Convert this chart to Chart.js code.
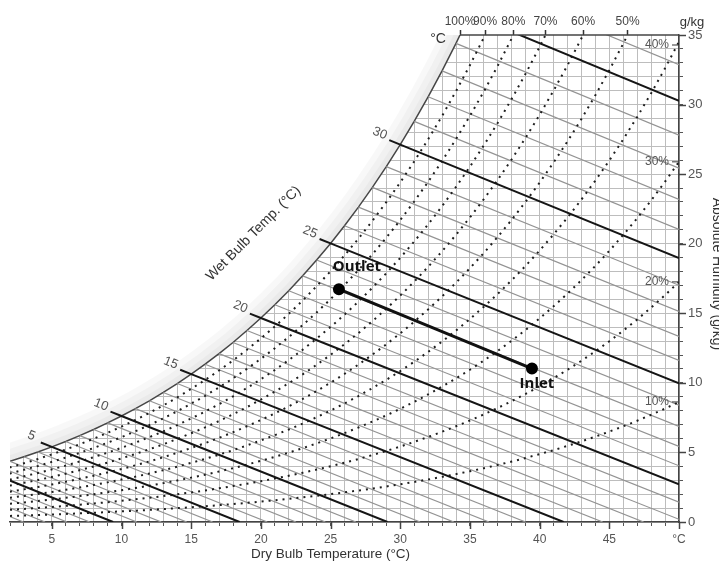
<!DOCTYPE html>
<html><head><meta charset="utf-8">
<script src="https://cdn.jsdelivr.net/npm/chart.js@4.4.1/dist/chart.umd.min.js"></script>
<style>html,body{margin:0;padding:0;background:#fff;overflow:hidden}</style>
</head><body>
<canvas id="c" width="719" height="563"></canvas>
<script>
// ---- data ----
const dryBulbTemps = [-4,-3,-2,-1,0,1,2,3,4,5,6,7,8,9,10,11,12,13,14,15,16,17,18,19,20,21,22,23,24,25,26,27,28,29,30,31,32,33,34,35,36,37,38,39,40,41,42,43,44,45,46,47,48,49,50];
const saturationHumidity = [2.81,3.03,3.26,3.51,3.78,4.06,4.36,4.69,5.03,5.40,5.79,6.21,6.65,7.12,7.62,8.15,8.71,9.31,9.95,10.63,11.34,12.10,12.90,13.76,14.66,15.61,16.62,17.69,18.83,20.02,21.29,22.63,24.05,25.54,27.12,28.79,30.56,32.42,34.40,36.48,38.68,41.00,43.45,46.04,48.78,51.67,54.71,57.94,61.35,64.95,68.76,72.78,77.03,81.53,86.29];
const rhLevels = [90,80,70,60,50,40,30,20,10];
const rhTopLevels = [100,90,80,70,60,50];
const rhTopLabels = ['100%','90%','80%','70%','60%','50%'];
const rhSideLevels = [40,30,20,10];
const rhSideLabels = ['40%','30%','20%','10%'];
const wetBulbTemps = [-4,-3,-2,-1,0,1,2,3,4,5,6,7,8,9,10,11,12,13,14,15,16,17,18,19,20,21,22,23,24,25,26,27,28,29,30,31,32,33,34,35,36];
const wetBulbLabelTemps = [5,10,15,20,25,30];
const processLabels = ['Outlet','Inlet'];
const processDryBulb = [25.6, 39.45];
const processHumidity = [16.73, 11.03];
const X_MIN = 2, X_MAX = 50, Y_MIN = 0, Y_MAX = 35;

const FONT = '"Liberation Sans", Arial, Helvetica, sans-serif';
Chart.defaults.font.family = FONT;

function satAt(t){
  const i = Math.max(0, Math.min(dryBulbTemps.length-2, Math.floor(t - dryBulbTemps[0])));
  const t0 = dryBulbTemps[i], t1 = dryBulbTemps[i+1];
  const f = (t - t0)/(t1 - t0);
  return saturationHumidity[i] + f*(saturationHumidity[i+1]-saturationHumidity[i]);
}
function tempWhere(level, w){
  for (let i=0;i<dryBulbTemps.length-1;i++){
    const a = level/100*saturationHumidity[i], b = level/100*saturationHumidity[i+1];
    if (a <= w && b >= w) return dryBulbTemps[i] + (w-a)/(b-a)*(dryBulbTemps[i+1]-dryBulbTemps[i]);
  }
  return null;
}
function wbLine(twb){
  const ws = satAt(twb);
  const h = 1.006*twb + ws*(2501 + 1.86*twb)/1000;
  let tEnd = h/1.006, wEnd = 0;
  if (tEnd > X_MAX){ tEnd = X_MAX; wEnd = (h - 1.006*X_MAX)/(2501 + 1.86*X_MAX)*1000; }
  return [{x:twb, y:ws}, {x:tEnd, y:wEnd}];
}
const rhTopTemps = rhTopLevels.map(l => tempWhere(l, Y_MAX));

const datasets = [];
const satPts = dryBulbTemps.filter(t => t <= 35).map(t => ({x:t, y:satAt(t)}));
datasets.push({data: satPts, fill: 'end', backgroundColor: '#ffffff', borderColor: '#4a4a4a', borderWidth: 1.5, order: 10});
wetBulbTemps.filter(t => t % 5 !== 0).forEach(t => {
  datasets.push({data: wbLine(t), borderColor: '#939393', borderWidth: 1.2, order: 8});
});
rhLevels.forEach(l => {
  datasets.push({data: dryBulbTemps.filter(t => t >= 1).map(t => ({x:t, y:l/100*satAt(t)})),
    borderColor: '#1e1e1e', borderWidth: 2, borderDash: [2, 5], order: 7});
});
wetBulbTemps.filter(t => t % 5 === 0).forEach(t => {
  const [s, e] = wbLine(t);
  const dx = s.x - e.x, dy = s.y - e.y, len = Math.hypot(dx, dy);
  const stub = {x: s.x + 0.85*dx/len, y: s.y + 0.85*dy/len};
  datasets.push({data: [stub, s, e], borderColor: '#151515', borderWidth: 2, order: 6});
});
datasets.push({data: processDryBulb.map((t,i) => ({x:t, y:processHumidity[i]})),
  borderColor: '#111', borderWidth: 3, pointRadius: 4.5, pointBackgroundColor: '#000', pointBorderColor: '#000', order: 0});

const extras = {
  id: 'extras',
  afterDatasetDraw(chart, args){
    if (args.index !== 0) return;
    const {ctx, chartArea: a, scales: {x, y}} = chart;
    const pts = satPts.map(p => [x.getPixelForValue(p.x), y.getPixelForValue(p.y)]);
    ctx.save();
    ctx.beginPath(); ctx.rect(a.left, a.top, a.right-a.left, a.bottom-a.top); ctx.clip();
    ctx.beginPath();
    pts.forEach((p,i) => i ? ctx.lineTo(p[0],p[1]) : ctx.moveTo(p[0],p[1]));
    ctx.lineTo(pts[pts.length-1][0], a.top-60); ctx.lineTo(pts[0][0], a.top-60); ctx.closePath();
    ctx.clip();
    ctx.lineJoin = 'round';
    [36, 24, 12].forEach(w => {
      ctx.beginPath();
      pts.forEach((p,i) => i ? ctx.lineTo(p[0],p[1]) : ctx.moveTo(p[0],p[1]));
      ctx.lineWidth = w; ctx.strokeStyle = 'rgba(0,0,0,0.028)'; ctx.stroke();
    });
    ctx.restore();
  },
  afterDraw(chart){
    const {ctx, chartArea: a, scales: {x, y}} = chart;
    ctx.save();
    // top border from the saturation point to the right
    ctx.strokeStyle = '#444'; ctx.lineWidth = 1.5;
    ctx.beginPath(); ctx.moveTo(x.getPixelForValue(rhTopTemps[0]), a.top); ctx.lineTo(a.right, a.top); ctx.stroke();
    // major ticks
    for (let v = 5; v <= X_MAX; v += 5){
      const px = Math.round(x.getPixelForValue(v)) + 0.5;
      ctx.beginPath(); ctx.moveTo(px, a.bottom); ctx.lineTo(px, a.bottom + 7); ctx.stroke();
    }
    for (let v = 0; v <= Y_MAX; v += 5){
      const py = Math.round(y.getPixelForValue(v)) + 0.5;
      ctx.beginPath(); ctx.moveTo(a.right, py); ctx.lineTo(a.right + 7, py); ctx.stroke();
    }
    // wet bulb labels
    ctx.fillStyle = '#555'; ctx.font = '13px ' + FONT; ctx.textAlign = 'center'; ctx.textBaseline = 'middle';
    wetBulbLabelTemps.forEach(t => {
      const [s, e] = wbLine(t);
      const sx = x.getPixelForValue(s.x), sy = y.getPixelForValue(s.y);
      const ex = x.getPixelForValue(e.x), ey = y.getPixelForValue(e.y);
      const len = Math.hypot(sx-ex, sy-ey), ux = (sx-ex)/len, uy = (sy-ey)/len;
      ctx.save();
      ctx.translate(sx + 22*ux, sy + 22*uy - 3);
      ctx.rotate(Math.atan2(ey-sy, ex-sx));
      ctx.fillText(String(t), 0, 0);
      ctx.restore();
    });
    // RH side labels
    ctx.font = '12px ' + FONT; ctx.textAlign = 'right'; ctx.fillStyle = '#555';
    rhSideLevels.forEach((l, i) => {
      const py = Math.max(y.getPixelForValue(l/100*satAt(X_MAX)), a.top + 10);
      ctx.fillText(rhSideLabels[i], a.right - 10, py);
      ctx.strokeStyle = '#555'; ctx.lineWidth = 1.2;
      ctx.beginPath(); ctx.moveTo(a.right - 7, py); ctx.lineTo(a.right - 1, py); ctx.stroke();
    });
    // unit labels and titles
    ctx.fillStyle = '#333'; ctx.textAlign = 'center';
    ctx.font = '13px ' + FONT;
    ctx.fillText('g/kg', a.right + 13, a.top - 13);
    ctx.font = '14px ' + FONT;
    ctx.fillText('°C', x.getPixelForValue(rhTopTemps[0]) - 22, a.top + 4);
    ctx.font = '13.5px ' + FONT;
    ctx.fillText('Dry Bulb Temperature (°C)', 330.5, 554);
    ctx.save(); ctx.translate(717, 274); ctx.rotate(Math.PI/2);
    ctx.font = '14px ' + FONT; ctx.fillText('Absolute Humidity (g/kg)', 0, 0); ctx.restore();
    ctx.save(); ctx.translate(253.5, 233.5); ctx.rotate(-Math.PI/4);
    ctx.font = '14px ' + FONT; ctx.fillText('Wet Bulb Temp. (°C)', 0, 0); ctx.restore();
    // process labels
    ctx.fillStyle = '#111'; ctx.font = 'bold 15px "Open Sans", ' + FONT;
    const offs = [[18, -22], [5, 15]];
    processLabels.forEach((lab, i) => {
      const px = x.getPixelForValue(processDryBulb[i]), py = y.getPixelForValue(processHumidity[i]);
      ctx.fillText(lab, px + offs[i][0], py + offs[i][1]);
    });
    ctx.restore();
  }
};

new Chart(document.getElementById('c'), {
  type: 'line',
  data: { datasets },
  options: {
    responsive: false, animation: false, devicePixelRatio: 1, events: [],
    layout: { padding: { left: 10, right: 0, top: 0, bottom: 0 } },
    elements: { point: { radius: 0 }, line: { tension: 0 } },
    plugins: { legend: { display: false }, tooltip: { enabled: false } },
    scales: {
      x: {
        type: 'linear', position: 'bottom', min: X_MIN, max: X_MAX,
        afterFit: s => { s.height = 41; },
        ticks: { stepSize: 1, autoSkip: false, maxRotation: 0, minRotation: 0, padding: 6, color: '#555', font: { size: 12 },
          callback: v => v === X_MAX ? '°C' : (v % 5 === 0 ? String(v) : '') },
        grid: { color: c => (c.tick && c.tick.value === X_MIN) ? 'rgba(0,0,0,0)' : '#bdbdbd', lineWidth: 1, tickLength: 4, tickColor: '#555', tickWidth: 1 },
        border: { color: '#444', width: 1.5 }
      },
      x2: {
        type: 'linear', position: 'top', min: X_MIN, max: X_MAX,
        afterFit: s => { s.height = 35; },
        afterBuildTicks: s => { s.ticks = rhTopTemps.map(v => ({ value: v })); },
        ticks: { autoSkip: false, maxRotation: 0, minRotation: 0, padding: 1, color: '#444', font: { size: 12 },
          callback: (v, i) => rhTopLabels[i] },
        grid: { drawOnChartArea: false, tickLength: 5, tickColor: '#333', tickWidth: 1.5 },
        border: { display: false }
      },
      y: {
        type: 'linear', position: 'right', min: Y_MIN, max: Y_MAX,
        afterFit: s => { s.width = 40; },
        ticks: { stepSize: 1, autoSkip: false, padding: 5, color: '#555', font: { size: 13 },
          callback: v => v % 5 === 0 ? String(v) : '' },
        grid: { color: c => (c.tick && c.tick.value === Y_MAX) ? 'rgba(0,0,0,0)' : '#bdbdbd', lineWidth: 1, tickLength: 4, tickColor: '#555', tickWidth: 1 },
        border: { color: '#444', width: 1.5 }
      }
    }
  },
  plugins: [extras]
});
</script>
</body></html>
